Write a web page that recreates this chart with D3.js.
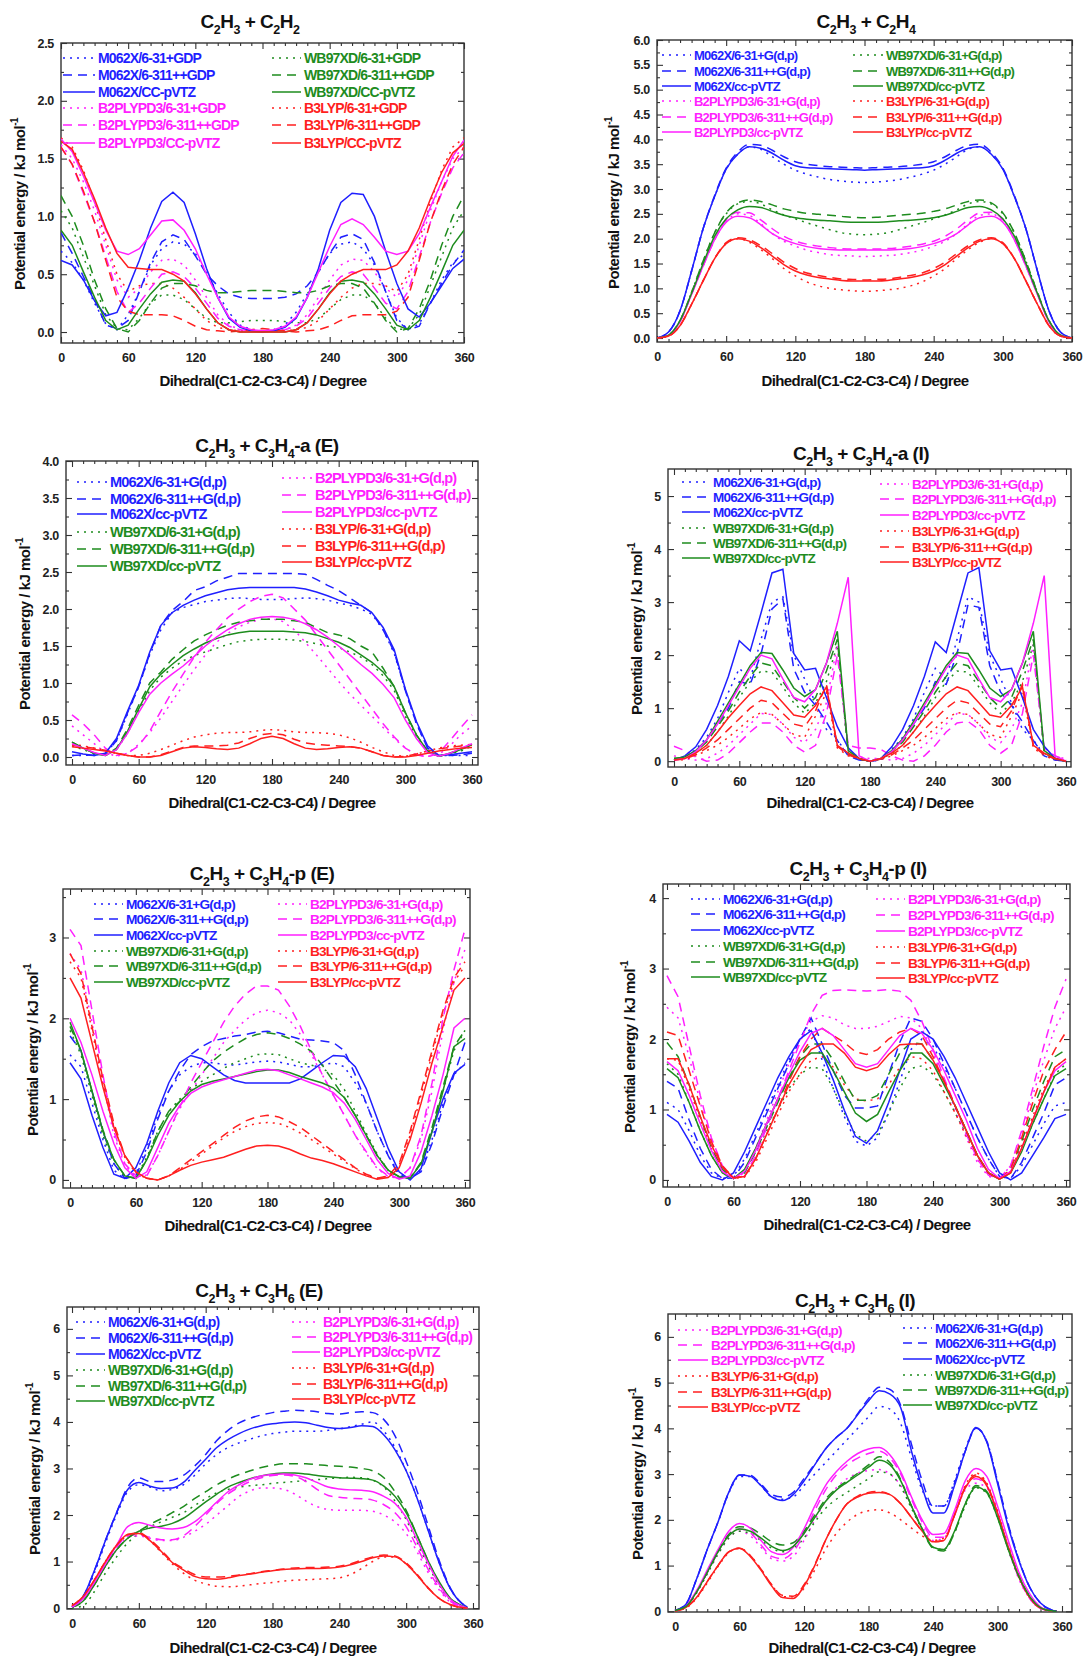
<!doctype html>
<html>
<head>
<meta charset="utf-8">
<title>Dihedral scans</title>
<style>
  body { margin: 0; background: #fff; }
  svg text { font-family: "Liberation Sans", Arial, sans-serif; font-weight: bold; }
</style>
</head>
<body>
<svg id="chart" width="1083" height="1656"></svg>
<script src="https://d3js.org/d3.v7.min.js"></script>
<script>
// dihedral angles (degree)
var ANG = [0,10,20,30,40,50,60,70,80,90,100,110,120,130,140,150,160,170,180,190,200,210,220,230,240,250,260,270,280,290,300,310,320,330,340,350,360];
var ANG_E = [0,10,20,30,40,50,60,70,80,90,100,110,120,130,140,150,160,170,180,190,200,210,220,230,240,250,260,270,280,290,300,310,320,330,340,350,355];
var X_MAJOR = [0,60,120,180,240,300,360];
var X_MINOR = [0,10,20,30,40,50,60,70,80,90,100,110,120,130,140,150,160,170,180,190,200,210,220,230,240,250,260,270,280,290,300,310,320,330,340,350,360];

// suffix a = 6-31+G(d,p), b = 6-311++G(d,p), c = cc-pVTZ ; energies in kJ/mol

// C2H3 + C2H2
var p1_m062x_a = [0.70,0.60,0.45,0.25,0.07,0.02,0.15,0.35,0.58,0.72,0.78,0.76,0.68,0.52,0.33,0.17,0.06,0.02,0.01,0.02,0.06,0.17,0.33,0.52,0.68,0.76,0.78,0.72,0.58,0.35,0.12,0.02,0.07,0.25,0.45,0.60,0.67];
var p1_m062x_b = [0.86,0.68,0.48,0.28,0.06,0.03,0.10,0.35,0.60,0.78,0.84,0.80,0.66,0.50,0.40,0.33,0.30,0.29,0.29,0.29,0.30,0.33,0.40,0.52,0.68,0.82,0.85,0.80,0.60,0.35,0.10,0.02,0.05,0.25,0.42,0.58,0.71];
var p1_m062x_c = [0.62,0.58,0.45,0.27,0.14,0.17,0.38,0.62,0.90,1.13,1.21,1.12,0.85,0.55,0.30,0.12,0.04,0.01,0.00,0.01,0.04,0.12,0.30,0.55,0.88,1.12,1.20,1.19,1.00,0.70,0.42,0.20,0.13,0.25,0.40,0.55,0.63];
var p1_b2_a = [1.62,1.50,1.30,1.05,0.75,0.45,0.30,0.38,0.52,0.62,0.63,0.58,0.45,0.30,0.15,0.06,0.02,0.01,0.00,0.01,0.02,0.06,0.15,0.30,0.45,0.58,0.63,0.62,0.52,0.38,0.30,0.45,0.75,1.05,1.30,1.50,1.60];
var p1_b2_b = [1.60,1.45,1.20,0.95,0.65,0.35,0.17,0.25,0.38,0.50,0.52,0.48,0.38,0.25,0.12,0.05,0.02,0.01,0.01,0.01,0.02,0.05,0.12,0.25,0.38,0.48,0.52,0.50,0.38,0.25,0.20,0.35,0.65,0.95,1.20,1.42,1.55];
var p1_b2_c = [1.67,1.56,1.35,1.12,0.88,0.70,0.67,0.72,0.84,0.96,0.97,0.88,0.72,0.50,0.30,0.13,0.05,0.02,0.01,0.02,0.05,0.13,0.30,0.52,0.74,0.93,0.98,0.93,0.82,0.70,0.67,0.70,0.85,1.08,1.30,1.52,1.66];
var p1_wb_a = [1.05,0.90,0.65,0.40,0.15,0.03,0.02,0.12,0.25,0.32,0.32,0.28,0.20,0.12,0.08,0.08,0.09,0.10,0.10,0.10,0.09,0.08,0.08,0.12,0.20,0.28,0.32,0.32,0.25,0.12,0.02,0.03,0.15,0.40,0.65,0.90,1.05];
var p1_wb_b = [1.18,1.00,0.75,0.45,0.20,0.03,0.00,0.10,0.25,0.38,0.42,0.42,0.40,0.36,0.34,0.34,0.35,0.36,0.36,0.36,0.35,0.34,0.34,0.36,0.40,0.42,0.42,0.38,0.25,0.10,0.00,0.03,0.20,0.45,0.75,1.00,1.18];
var p1_wb_c = [0.88,0.75,0.52,0.30,0.10,0.02,0.06,0.20,0.33,0.43,0.45,0.44,0.34,0.20,0.08,0.02,0.00,0.00,0.00,0.00,0.00,0.02,0.08,0.20,0.34,0.44,0.45,0.43,0.33,0.20,0.06,0.02,0.10,0.30,0.52,0.75,0.88];
var p1_b3_a = [1.68,1.60,1.40,1.12,0.80,0.50,0.35,0.40,0.42,0.42,0.38,0.30,0.20,0.10,0.04,0.02,0.01,0.01,0.01,0.01,0.01,0.02,0.04,0.10,0.20,0.30,0.38,0.42,0.42,0.40,0.35,0.50,0.80,1.12,1.40,1.60,1.68];
var p1_b3_b = [1.60,1.45,1.22,0.95,0.62,0.30,0.18,0.15,0.15,0.15,0.14,0.10,0.05,0.02,0.01,0.00,0.01,0.02,0.03,0.02,0.01,0.00,0.01,0.02,0.05,0.10,0.14,0.15,0.15,0.15,0.18,0.30,0.62,0.95,1.22,1.45,1.60];
var p1_b3_c = [1.65,1.58,1.38,1.15,0.90,0.68,0.56,0.55,0.54,0.54,0.50,0.44,0.33,0.20,0.08,0.02,0.00,0.00,0.00,0.00,0.00,0.02,0.08,0.20,0.33,0.44,0.50,0.54,0.54,0.54,0.58,0.70,0.90,1.15,1.38,1.55,1.63];

// C2H3 + C2H4
var p2_m062x_a = [0,0.12,0.55,1.35,2.2,2.85,3.4,3.7,3.85,3.8,3.65,3.5,3.38,3.3,3.24,3.19,3.16,3.14,3.13,3.14,3.16,3.19,3.24,3.3,3.38,3.5,3.65,3.8,3.85,3.7,3.4,2.85,2.2,1.35,0.55,0.12,0];
var p2_m062x_b = [0,0.12,0.55,1.35,2.2,2.87,3.42,3.74,3.9,3.88,3.78,3.65,3.55,3.5,3.47,3.45,3.44,3.43,3.42,3.43,3.44,3.45,3.47,3.5,3.55,3.65,3.78,3.88,3.9,3.74,3.42,2.87,2.2,1.35,0.55,0.12,0];
var p2_m062x_c = [0,0.12,0.55,1.35,2.2,2.85,3.4,3.7,3.85,3.82,3.72,3.58,3.47,3.43,3.42,3.41,3.4,3.39,3.38,3.39,3.4,3.41,3.42,3.43,3.47,3.58,3.72,3.82,3.85,3.7,3.4,2.85,2.2,1.35,0.55,0.12,0];
var p2_b2_a = [0,0.05,0.33,0.88,1.45,1.98,2.35,2.5,2.47,2.3,2.1,1.95,1.85,1.77,1.72,1.68,1.66,1.65,1.64,1.65,1.66,1.68,1.72,1.77,1.85,1.95,2.1,2.3,2.47,2.5,2.35,1.98,1.45,0.88,0.33,0.05,0];
var p2_b2_b = [0,0.05,0.33,0.88,1.45,1.98,2.38,2.53,2.52,2.38,2.2,2.05,1.95,1.89,1.85,1.82,1.8,1.79,1.79,1.79,1.8,1.82,1.85,1.89,1.95,2.05,2.2,2.38,2.52,2.53,2.38,1.98,1.45,0.88,0.33,0.05,0];
var p2_b2_c = [0,0.05,0.33,0.88,1.45,1.98,2.33,2.45,2.42,2.28,2.1,1.98,1.9,1.84,1.8,1.78,1.77,1.77,1.77,1.77,1.77,1.78,1.8,1.84,1.9,1.98,2.1,2.28,2.42,2.45,2.33,1.98,1.45,0.88,0.33,0.05,0];
var p2_wb_a = [0,0.06,0.35,0.92,1.55,2.12,2.5,2.7,2.75,2.7,2.58,2.48,2.4,2.32,2.25,2.18,2.12,2.09,2.08,2.09,2.12,2.18,2.25,2.32,2.4,2.48,2.58,2.7,2.75,2.7,2.5,2.12,1.55,0.92,0.35,0.06,0];
var p2_wb_b = [0,0.06,0.35,0.92,1.55,2.12,2.52,2.72,2.78,2.75,2.68,2.6,2.55,2.51,2.49,2.47,2.45,2.43,2.42,2.43,2.45,2.47,2.49,2.51,2.55,2.6,2.68,2.75,2.78,2.72,2.52,2.12,1.55,0.92,0.35,0.06,0];
var p2_wb_c = [0,0.06,0.35,0.9,1.5,2.05,2.4,2.58,2.65,2.63,2.55,2.47,2.42,2.39,2.37,2.36,2.34,2.33,2.33,2.33,2.34,2.36,2.37,2.39,2.42,2.47,2.55,2.63,2.65,2.58,2.4,2.05,1.5,0.9,0.35,0.06,0];
var p2_b3_a = [0,0.04,0.25,0.68,1.15,1.6,1.9,2.0,1.93,1.78,1.6,1.4,1.25,1.13,1.05,1.0,0.97,0.95,0.94,0.95,0.97,1.0,1.05,1.13,1.25,1.4,1.6,1.78,1.93,2.0,1.9,1.6,1.15,0.68,0.25,0.04,0];
var p2_b3_b = [0,0.04,0.25,0.68,1.15,1.6,1.92,2.02,1.98,1.86,1.7,1.53,1.4,1.31,1.26,1.22,1.19,1.18,1.17,1.18,1.19,1.22,1.26,1.31,1.4,1.53,1.7,1.86,1.98,2.02,1.92,1.6,1.15,0.68,0.25,0.04,0];
var p2_b3_c = [0,0.04,0.25,0.68,1.15,1.6,1.9,2.0,1.95,1.82,1.65,1.48,1.35,1.27,1.22,1.19,1.16,1.15,1.15,1.15,1.16,1.19,1.22,1.27,1.35,1.48,1.65,1.82,1.95,2.0,1.9,1.6,1.15,0.68,0.25,0.04,0];

// C2H3 + C3H4-a (E)
var p3_m062x_a = [0.02,0.02,0.03,0.05,0.22,0.58,0.95,1.38,1.72,1.95,2.02,2.06,2.1,2.12,2.14,2.15,2.14,2.13,2.13,2.13,2.14,2.15,2.14,2.12,2.08,2.05,2.0,1.93,1.72,1.4,0.9,0.45,0.12,0.02,0.02,0.02,0.02];
var p3_m062x_b = [0.02,0.03,0.02,0.04,0.22,0.6,0.95,1.4,1.78,1.98,2.1,2.25,2.3,2.38,2.43,2.48,2.48,2.48,2.48,2.48,2.48,2.47,2.4,2.32,2.25,2.15,2.05,1.95,1.72,1.42,0.9,0.45,0.12,0.02,0.02,0.03,0.05];
var p3_m062x_c = [0.07,0.04,0.02,0.05,0.25,0.62,0.97,1.42,1.78,1.95,2.05,2.12,2.18,2.22,2.26,2.28,2.29,2.29,2.29,2.29,2.29,2.27,2.23,2.18,2.12,2.08,2.05,1.95,1.75,1.45,0.92,0.48,0.15,0.02,0.03,0.05,0.07];
var p3_wb_a = [0.15,0.1,0.05,0.02,0.1,0.32,0.62,0.9,1.08,1.2,1.3,1.37,1.42,1.47,1.52,1.56,1.58,1.59,1.59,1.59,1.58,1.56,1.53,1.5,1.48,1.42,1.35,1.25,1.1,0.9,0.55,0.28,0.07,0.01,0.04,0.08,0.15];
var p3_wb_b = [0.2,0.12,0.05,0.02,0.12,0.38,0.7,1.0,1.15,1.32,1.45,1.57,1.65,1.72,1.78,1.82,1.84,1.86,1.86,1.86,1.84,1.82,1.75,1.68,1.65,1.6,1.5,1.42,1.2,0.95,0.6,0.3,0.08,0.01,0.05,0.1,0.17];
var p3_wb_c = [0.2,0.12,0.05,0.02,0.1,0.35,0.65,0.95,1.12,1.25,1.37,1.46,1.54,1.6,1.65,1.68,1.7,1.7,1.7,1.7,1.69,1.68,1.65,1.6,1.55,1.48,1.38,1.28,1.15,0.95,0.6,0.3,0.08,0.01,0.05,0.1,0.17];
var p3_b2_a = [0.42,0.3,0.18,0.06,0.01,0.05,0.17,0.33,0.53,0.75,0.97,1.18,1.38,1.55,1.67,1.76,1.82,1.86,1.87,1.83,1.72,1.55,1.38,1.2,1.02,0.85,0.7,0.55,0.4,0.25,0.12,0.03,0.01,0.03,0.15,0.3,0.42];
var p3_b2_b = [0.57,0.45,0.3,0.12,0.02,0.05,0.15,0.35,0.62,0.88,1.12,1.35,1.55,1.72,1.88,2.0,2.1,2.17,2.2,2.15,2.0,1.85,1.65,1.45,1.25,1.05,0.85,0.65,0.45,0.27,0.12,0.03,0.0,0.05,0.22,0.4,0.57];
var p3_b2_c = [0.18,0.12,0.06,0.02,0.1,0.32,0.6,0.85,1.0,1.12,1.23,1.36,1.5,1.62,1.72,1.8,1.86,1.89,1.9,1.89,1.86,1.8,1.72,1.62,1.5,1.38,1.25,1.13,0.98,0.8,0.5,0.25,0.06,0.01,0.05,0.12,0.18];
var p3_b3_a = [0.17,0.15,0.12,0.09,0.05,0.02,0.02,0.05,0.1,0.16,0.22,0.27,0.3,0.32,0.33,0.33,0.34,0.36,0.37,0.36,0.34,0.33,0.33,0.32,0.3,0.26,0.2,0.13,0.07,0.02,0.01,0.04,0.08,0.12,0.15,0.16,0.17];
var p3_b3_b = [0.16,0.14,0.12,0.09,0.05,0.02,0.0,0.0,0.03,0.08,0.13,0.15,0.15,0.15,0.16,0.19,0.25,0.3,0.32,0.3,0.24,0.19,0.17,0.16,0.15,0.14,0.12,0.07,0.02,0.0,0.01,0.04,0.08,0.11,0.13,0.15,0.16];
var p3_b3_c = [0.14,0.12,0.1,0.08,0.05,0.02,0.0,0.0,0.02,0.07,0.12,0.14,0.13,0.11,0.1,0.12,0.18,0.25,0.28,0.25,0.18,0.12,0.1,0.11,0.13,0.14,0.12,0.07,0.02,0.0,0.0,0.02,0.05,0.08,0.1,0.12,0.13];

// C2H3 + C3H4-a (I)
var p4_m062x_a = [0.02,0.07,0.22,0.45,0.8,1.3,1.75,1.55,2.3,3.0,3.1,2.0,1.55,1.1,0.6,0.4,0.12,0.03,0.0,0.03,0.22,0.45,0.8,1.3,1.75,1.55,2.3,3.1,3.0,2.0,1.55,1.1,0.6,0.4,0.12,0.03,0.0];
var p4_m062x_b = [0.02,0.07,0.2,0.4,0.7,1.0,1.5,1.45,2.03,2.87,3.06,1.74,1.3,1.05,0.74,0.39,0.1,0.02,0.0,0.02,0.2,0.4,0.7,1.0,1.5,1.45,2.03,2.95,2.9,1.8,1.3,1.05,0.74,0.39,0.1,0.02,0.0];
var p4_m062x_c = [0.02,0.1,0.27,0.6,1.05,1.6,2.27,2.08,2.8,3.55,3.62,2.03,1.72,1.75,1.2,0.65,0.25,0.05,0.0,0.05,0.27,0.6,1.05,1.6,2.25,2.05,2.8,3.55,3.65,2.08,1.72,1.75,1.2,0.6,0.28,0.05,0.0];
var p4_wb_a = [0.05,0.06,0.15,0.3,0.55,0.85,1.2,1.5,1.7,1.68,1.4,1.1,0.9,1.1,1.5,2.2,0.15,0.04,0.0,0.04,0.15,0.3,0.55,0.85,1.2,1.5,1.7,1.68,1.4,1.1,0.9,1.1,1.5,2.2,0.15,0.04,0.0];
var p4_wb_b = [0.05,0.07,0.18,0.36,0.65,0.95,1.3,1.6,1.85,1.8,1.5,1.2,1.0,1.2,1.7,2.3,0.15,0.04,0.0,0.04,0.18,0.36,0.65,0.95,1.3,1.6,1.85,1.8,1.5,1.2,1.0,1.2,1.7,2.3,0.15,0.04,0.0];
var p4_wb_c = [0.05,0.08,0.2,0.4,0.75,1.1,1.45,1.8,2.05,2.03,1.72,1.38,1.22,1.35,1.85,2.45,0.2,0.05,0.0,0.05,0.2,0.42,0.75,1.1,1.45,1.8,2.05,2.03,1.72,1.38,1.22,1.35,1.85,2.45,0.2,0.05,0.0];
var p4_b2_a = [0.1,0.05,0.02,0.05,0.15,0.3,0.5,0.7,0.9,0.88,0.7,0.45,0.35,0.6,1.1,2.2,0.2,0.08,0.05,0.05,0.02,0.05,0.15,0.3,0.5,0.7,0.9,0.88,0.7,0.45,0.35,0.6,1.1,2.2,0.2,0.08,0.05];
var p4_b2_b = [0.28,0.2,0.08,0.0,0.02,0.15,0.35,0.55,0.72,0.72,0.55,0.3,0.17,0.3,0.9,2.0,0.3,0.25,0.25,0.22,0.1,0.02,0.0,0.1,0.3,0.55,0.72,0.75,0.6,0.3,0.15,0.3,0.9,2.0,0.25,0.1,0.02];
var p4_b2_c = [0.02,0.05,0.18,0.4,0.7,1.05,1.4,1.75,2.0,1.93,1.55,1.2,1.12,1.35,1.85,2.6,3.47,0.1,0.0,0.05,0.18,0.4,0.7,1.05,1.4,1.75,2.0,1.93,1.55,1.2,1.12,1.35,1.85,2.6,3.5,0.1,0.0];
var p4_b3_a = [0.02,0.03,0.1,0.2,0.3,0.45,0.62,0.8,0.92,0.88,0.7,0.5,0.45,0.85,1.3,0.25,0.1,0.03,0.0,0.03,0.1,0.2,0.3,0.45,0.62,0.8,0.92,0.88,0.7,0.5,0.45,0.85,1.3,0.25,0.1,0.03,0.0];
var p4_b3_b = [0.02,0.04,0.12,0.25,0.4,0.6,0.8,1.0,1.15,1.1,0.9,0.7,0.65,0.95,1.45,0.28,0.12,0.04,0.0,0.04,0.12,0.25,0.4,0.6,0.8,1.0,1.15,1.1,0.9,0.7,0.65,0.95,1.45,0.28,0.12,0.04,0.0];
var p4_b3_c = [0.02,0.05,0.15,0.3,0.55,0.82,1.05,1.27,1.4,1.33,1.1,0.87,0.83,1.05,1.4,0.3,0.15,0.05,0.0,0.05,0.15,0.3,0.55,0.82,1.05,1.27,1.4,1.33,1.1,0.87,0.83,1.05,1.4,0.3,0.15,0.05,0.0];

// C2H3 + C3H4-p (E)
var p5_m062x_a = [1.55,1.4,0.95,0.5,0.12,0.01,0.08,0.4,0.8,1.1,1.3,1.4,1.45,1.45,1.43,1.42,1.44,1.46,1.47,1.46,1.43,1.4,1.4,1.42,1.45,1.4,1.2,0.95,0.6,0.3,0.08,0.01,0.12,0.5,0.95,1.3,1.45];
var p5_m062x_b = [1.78,1.6,1.1,0.6,0.2,0.02,0.05,0.35,0.75,1.1,1.35,1.55,1.65,1.72,1.75,1.78,1.8,1.83,1.84,1.82,1.78,1.74,1.73,1.72,1.7,1.6,1.3,0.95,0.6,0.3,0.05,0.02,0.1,0.45,0.9,1.3,1.7];
var p5_m062x_c = [1.45,1.25,0.8,0.4,0.07,0.02,0.15,0.45,0.85,1.2,1.45,1.54,1.5,1.4,1.3,1.23,1.2,1.2,1.2,1.2,1.2,1.25,1.35,1.45,1.54,1.53,1.4,1.13,0.76,0.39,0.1,0.0,0.14,0.6,1.0,1.32,1.43];
var p5_wb_a = [1.85,1.55,1.05,0.55,0.2,0.03,0.03,0.28,0.6,0.85,1.0,1.12,1.22,1.3,1.38,1.45,1.5,1.55,1.56,1.55,1.5,1.45,1.42,1.38,1.3,1.12,0.85,0.58,0.32,0.12,0.03,0.03,0.2,0.6,1.1,1.6,1.85];
var p5_wb_b = [1.9,1.6,1.1,0.62,0.25,0.05,0.02,0.25,0.6,0.85,0.97,1.15,1.32,1.47,1.58,1.67,1.75,1.8,1.82,1.8,1.75,1.68,1.59,1.42,1.22,1.02,0.8,0.55,0.3,0.12,0.04,0.02,0.22,0.65,1.15,1.65,1.85];
var p5_wb_c = [1.95,1.6,1.1,0.6,0.25,0.05,0.02,0.25,0.55,0.8,0.97,1.1,1.18,1.22,1.25,1.28,1.31,1.34,1.36,1.36,1.33,1.28,1.24,1.2,1.14,1.02,0.8,0.55,0.3,0.12,0.04,0.02,0.2,0.6,1.1,1.65,1.75];
var p5_b2_a = [2.8,2.6,1.95,1.2,0.55,0.18,0.04,0.06,0.3,0.6,0.88,1.1,1.3,1.5,1.7,1.85,1.98,2.07,2.1,2.07,1.98,1.8,1.55,1.3,1.05,0.8,0.55,0.33,0.14,0.04,0.02,0.15,0.5,1.1,1.85,2.45,2.85];
var p5_b2_b = [3.1,2.9,2.1,1.3,0.6,0.2,0.05,0.05,0.3,0.6,0.9,1.2,1.45,1.7,1.95,2.15,2.3,2.4,2.4,2.35,2.15,1.9,1.6,1.3,1.05,0.8,0.55,0.35,0.15,0.05,0.02,0.15,0.55,1.2,2.0,2.6,3.1];
var p5_b2_c = [2.0,1.7,1.3,0.85,0.45,0.15,0.02,0.1,0.4,0.7,0.92,1.07,1.15,1.2,1.24,1.28,1.32,1.36,1.37,1.35,1.3,1.25,1.2,1.15,1.08,0.95,0.75,0.5,0.25,0.08,0.01,0.05,0.35,0.8,1.3,1.88,2.0];
var p5_b3_a = [2.7,2.5,1.85,1.2,0.65,0.28,0.08,0.02,0.0,0.05,0.13,0.22,0.32,0.42,0.52,0.6,0.66,0.7,0.71,0.7,0.65,0.58,0.5,0.41,0.32,0.23,0.14,0.06,0.02,0.05,0.18,0.55,1.05,1.55,2.05,2.45,2.65];
var p5_b3_b = [2.8,2.55,1.9,1.25,0.7,0.3,0.1,0.02,0.0,0.05,0.15,0.25,0.35,0.45,0.55,0.65,0.73,0.78,0.8,0.78,0.72,0.65,0.55,0.45,0.35,0.25,0.15,0.07,0.02,0.05,0.2,0.6,1.1,1.6,2.1,2.5,2.7];
var p5_b3_c = [2.5,2.25,1.7,1.15,0.65,0.3,0.1,0.02,0.0,0.05,0.12,0.18,0.22,0.25,0.28,0.33,0.38,0.42,0.43,0.42,0.38,0.32,0.27,0.24,0.2,0.15,0.1,0.05,0.01,0.03,0.15,0.5,0.95,1.45,1.9,2.35,2.5];

// C2H3 + C3H4-p (I)
var p6_m062x_a = [1.1,1.0,0.7,0.35,0.1,0.02,0.05,0.3,0.65,1.0,1.35,1.7,2.0,2.15,1.7,1.3,0.9,0.55,0.48,0.6,0.95,1.4,1.85,2.0,1.9,1.6,1.3,0.95,0.6,0.3,0.05,0.02,0.2,0.5,0.8,1.05,1.1];
var p6_m062x_b = [1.4,1.3,0.85,0.45,0.15,0.02,0.03,0.25,0.6,0.95,1.3,1.65,2.0,2.3,1.93,1.55,1.2,1.02,1.02,1.05,1.5,1.95,2.3,2.25,2.0,1.65,1.3,0.95,0.6,0.3,0.05,0.02,0.25,0.6,0.95,1.35,1.45];
var p6_m062x_c = [0.93,0.82,0.55,0.25,0.05,0.0,0.1,0.4,0.75,1.1,1.45,1.75,2.0,2.12,1.8,1.42,0.99,0.62,0.52,0.7,1.1,1.55,2.0,2.1,2.0,1.75,1.45,1.1,0.75,0.4,0.1,0.0,0.1,0.35,0.6,0.87,0.93];
var p6_wb_a = [1.65,1.5,1.1,0.7,0.35,0.1,0.01,0.12,0.4,0.7,1.0,1.3,1.5,1.6,1.58,1.3,0.95,0.65,0.55,0.65,0.95,1.3,1.58,1.62,1.5,1.25,0.95,0.65,0.35,0.1,0.01,0.12,0.45,0.8,1.15,1.5,1.65];
var p6_wb_b = [1.95,1.75,1.35,0.9,0.45,0.15,0.02,0.1,0.4,0.75,1.1,1.45,1.75,1.93,1.93,1.7,1.4,1.13,1.13,1.2,1.5,1.8,1.95,1.93,1.7,1.4,1.05,0.7,0.35,0.1,0.01,0.15,0.55,1.0,1.4,1.75,1.85];
var p6_wb_c = [1.58,1.45,1.1,0.7,0.35,0.1,0.02,0.15,0.45,0.8,1.15,1.45,1.7,1.8,1.8,1.55,1.25,0.95,0.83,0.93,1.25,1.55,1.8,1.8,1.65,1.35,1.05,0.7,0.35,0.1,0.01,0.1,0.4,0.8,1.15,1.48,1.58];
var p6_b2_a = [2.45,2.3,1.75,1.1,0.55,0.15,0.02,0.1,0.45,0.85,1.25,1.65,2.0,2.25,2.33,2.3,2.2,2.15,2.15,2.18,2.25,2.32,2.3,2.15,1.8,1.4,1.0,0.6,0.25,0.05,0.02,0.2,0.65,1.2,1.7,2.15,2.45];
var p6_b2_b = [2.9,2.6,1.9,1.2,0.6,0.2,0.03,0.05,0.35,0.75,1.15,1.55,1.95,2.35,2.62,2.69,2.7,2.69,2.68,2.69,2.7,2.68,2.55,2.25,1.85,1.45,1.05,0.65,0.3,0.07,0.02,0.2,0.7,1.3,1.9,2.45,2.85];
var p6_b2_c = [1.68,1.55,1.2,0.8,0.42,0.12,0.02,0.12,0.42,0.8,1.15,1.5,1.82,2.08,2.15,2.05,1.85,1.65,1.6,1.65,1.85,2.05,2.15,2.08,1.85,1.55,1.2,0.85,0.45,0.15,0.02,0.12,0.45,0.85,1.25,1.55,1.68];
var p6_b3_a = [1.72,1.7,1.3,0.85,0.45,0.15,0.02,0.04,0.25,0.58,0.92,1.25,1.5,1.7,1.75,1.6,1.35,1.15,1.12,1.15,1.35,1.6,1.75,1.72,1.55,1.25,0.95,0.62,0.3,0.08,0.01,0.12,0.5,0.9,1.3,1.6,1.72];
var p6_b3_b = [2.1,2.05,1.55,1.05,0.55,0.2,0.03,0.05,0.3,0.65,1.0,1.4,1.75,2.0,2.15,2.05,1.95,1.82,1.78,1.85,2.0,2.1,2.15,2.05,1.75,1.4,1.05,0.7,0.35,0.1,0.01,0.15,0.6,1.1,1.55,1.85,2.1];
var p6_b3_c = [1.72,1.72,1.35,0.9,0.5,0.18,0.03,0.05,0.3,0.65,1.0,1.35,1.62,1.85,1.93,1.93,1.8,1.6,1.55,1.6,1.78,1.92,1.93,1.93,1.7,1.4,1.05,0.7,0.35,0.1,0.01,0.1,0.45,0.85,1.25,1.6,1.72];

// C2H3 + C3H6 (E)
var p7_m062x_a = [0.02,0.22,0.75,1.4,2.0,2.5,2.65,2.6,2.52,2.55,2.65,2.85,3.1,3.3,3.45,3.55,3.63,3.7,3.75,3.78,3.8,3.8,3.8,3.82,3.85,3.9,3.95,4.0,3.8,3.45,2.95,2.35,1.65,0.95,0.4,0.1,0.02];
var p7_m062x_b = [0.02,0.25,0.8,1.45,2.05,2.6,2.8,2.72,2.72,2.75,2.85,3.05,3.3,3.6,3.82,3.98,4.08,4.15,4.2,4.23,4.25,4.24,4.22,4.18,4.17,4.2,4.22,4.2,4.05,3.7,3.15,2.5,1.75,1.0,0.42,0.1,0.02];
var p7_m062x_c = [0.02,0.25,0.8,1.45,2.05,2.55,2.7,2.62,2.57,2.58,2.7,2.95,3.2,3.45,3.62,3.75,3.85,3.92,3.96,3.99,4.0,3.98,3.93,3.88,3.86,3.88,3.92,3.9,3.72,3.4,2.95,2.35,1.65,0.95,0.4,0.1,0.02];
var p7_wb_a = [0.0,0.05,0.35,0.75,1.1,1.4,1.6,1.75,1.85,1.95,2.05,2.2,2.35,2.48,2.55,2.6,2.63,2.65,2.68,2.7,2.72,2.74,2.76,2.78,2.8,2.81,2.8,2.75,2.6,2.3,1.9,1.4,0.9,0.48,0.17,0.04,0.0];
var p7_wb_b = [0.02,0.15,0.5,0.9,1.25,1.5,1.65,1.8,1.92,2.05,2.18,2.35,2.5,2.65,2.77,2.87,2.95,3.02,3.07,3.1,3.1,3.1,3.08,3.06,3.05,3.03,3.0,2.95,2.8,2.5,2.1,1.55,1.0,0.52,0.2,0.05,0.0];
var p7_wb_c = [0.02,0.15,0.5,0.9,1.25,1.5,1.65,1.72,1.76,1.82,1.93,2.1,2.28,2.45,2.6,2.7,2.78,2.84,2.88,2.9,2.9,2.88,2.85,2.82,2.8,2.79,2.78,2.75,2.62,2.4,2.05,1.55,1.0,0.55,0.2,0.05,0.0];
var p7_b2_a = [0.02,0.18,0.5,0.9,1.25,1.52,1.55,1.5,1.45,1.45,1.52,1.65,1.8,2.0,2.2,2.4,2.52,2.58,2.58,2.55,2.45,2.3,2.18,2.12,2.1,2.1,2.1,2.08,2.0,1.85,1.6,1.2,0.75,0.38,0.12,0.03,0.0];
var p7_b2_b = [0.02,0.2,0.55,0.95,1.3,1.55,1.58,1.52,1.47,1.47,1.55,1.75,2.0,2.25,2.45,2.6,2.72,2.8,2.85,2.86,2.83,2.72,2.55,2.42,2.38,2.36,2.35,2.32,2.22,2.05,1.75,1.3,0.82,0.42,0.14,0.03,0.0];
var p7_b2_c = [0.02,0.2,0.55,0.95,1.35,1.75,1.84,1.78,1.72,1.7,1.73,1.85,2.05,2.28,2.5,2.65,2.77,2.84,2.87,2.88,2.86,2.8,2.7,2.6,2.56,2.54,2.53,2.5,2.4,2.25,1.95,1.45,0.95,0.5,0.18,0.04,0.0];
var p7_b3_a = [0.05,0.25,0.6,1.0,1.35,1.55,1.6,1.45,1.2,0.95,0.75,0.6,0.52,0.47,0.46,0.47,0.5,0.53,0.55,0.58,0.6,0.61,0.62,0.63,0.65,0.72,0.85,1.0,1.1,1.1,0.95,0.7,0.42,0.2,0.07,0.01,0.0];
var p7_b3_b = [0.05,0.25,0.6,1.0,1.35,1.58,1.62,1.47,1.25,1.0,0.85,0.72,0.67,0.67,0.68,0.71,0.74,0.78,0.81,0.84,0.86,0.87,0.87,0.88,0.9,0.95,1.03,1.1,1.14,1.12,0.97,0.72,0.43,0.2,0.07,0.01,0.0];
var p7_b3_c = [0.05,0.25,0.6,1.0,1.35,1.58,1.6,1.45,1.22,0.98,0.82,0.68,0.63,0.62,0.65,0.7,0.73,0.77,0.8,0.83,0.84,0.85,0.85,0.86,0.88,0.93,1.0,1.08,1.12,1.1,0.95,0.7,0.42,0.2,0.07,0.01,0.0];

// C2H3 + C3H6 (I)
var p8_m062x_a = [0.02,0.15,0.7,1.35,1.95,2.58,2.95,2.95,2.75,2.5,2.45,2.5,2.75,3.0,3.25,3.5,3.75,4.0,4.25,4.48,4.42,4.1,3.35,2.65,2.3,2.3,2.85,3.55,4.0,3.72,2.85,1.9,1.12,0.53,0.18,0.03,0.0];
var p8_m062x_b = [0.02,0.15,0.7,1.35,1.95,2.6,2.98,2.97,2.78,2.55,2.5,2.6,2.9,3.22,3.55,3.8,4.0,4.32,4.65,4.9,4.85,4.5,3.65,2.85,2.3,2.3,2.8,3.5,4.0,3.72,2.85,1.9,1.12,0.53,0.18,0.03,0.0];
var p8_m062x_c = [0.02,0.15,0.7,1.35,1.95,2.6,2.98,2.95,2.75,2.5,2.42,2.55,2.85,3.2,3.55,3.8,4.0,4.3,4.6,4.82,4.75,4.45,3.5,2.7,2.15,2.15,2.75,3.5,4.02,3.7,2.8,1.85,1.1,0.52,0.18,0.03,0.0];
var p8_wb_a = [0.02,0.1,0.4,0.82,1.25,1.6,1.75,1.7,1.55,1.38,1.3,1.38,1.6,1.95,2.25,2.45,2.6,2.75,2.9,3.05,3.0,2.72,2.25,1.78,1.4,1.35,1.72,2.3,2.7,2.58,2.05,1.35,0.75,0.32,0.08,0.01,0.0];
var p8_wb_b = [0.02,0.1,0.42,0.85,1.3,1.68,1.85,1.82,1.68,1.52,1.45,1.5,1.75,2.1,2.45,2.68,2.85,3.02,3.2,3.38,3.25,2.88,2.3,1.8,1.38,1.32,1.72,2.35,2.75,2.62,2.08,1.38,0.78,0.33,0.09,0.01,0.0];
var p8_wb_c = [0.02,0.1,0.42,0.85,1.3,1.65,1.8,1.75,1.6,1.42,1.33,1.42,1.7,2.05,2.4,2.65,2.82,2.98,3.15,3.3,3.2,2.85,2.3,1.8,1.4,1.35,1.75,2.35,2.72,2.6,2.05,1.35,0.75,0.32,0.08,0.01,0.0];
var p8_b2_a = [0.02,0.1,0.4,0.82,1.25,1.6,1.75,1.65,1.4,1.15,1.1,1.2,1.55,2.0,2.4,2.7,2.9,3.02,3.08,3.1,3.0,2.75,2.3,1.85,1.55,1.6,2.1,2.65,2.8,2.7,2.1,1.35,0.7,0.28,0.06,0.01,0.0];
var p8_b2_b = [0.02,0.12,0.42,0.85,1.3,1.68,1.8,1.72,1.45,1.2,1.15,1.3,1.7,2.2,2.65,2.98,3.2,3.35,3.45,3.5,3.35,3.0,2.45,1.95,1.62,1.62,2.1,2.7,2.9,2.75,2.15,1.4,0.72,0.28,0.06,0.01,0.0];
var p8_b2_c = [0.02,0.12,0.45,0.9,1.35,1.75,1.92,1.82,1.55,1.3,1.24,1.4,1.8,2.3,2.75,3.05,3.28,3.45,3.55,3.58,3.42,3.05,2.5,2.0,1.68,1.7,2.2,2.85,3.12,2.95,2.3,1.55,0.85,0.38,0.1,0.01,0.0];
var p8_b3_a = [0.01,0.07,0.28,0.62,0.98,1.28,1.38,1.22,0.92,0.58,0.32,0.32,0.5,0.9,1.35,1.7,1.95,2.12,2.2,2.22,2.15,2.0,1.82,1.65,1.55,1.6,2.15,2.75,3.02,2.8,2.2,1.45,0.78,0.3,0.07,0.01,0.0];
var p8_b3_b = [0.01,0.08,0.3,0.65,1.0,1.3,1.38,1.22,0.92,0.58,0.35,0.33,0.58,1.02,1.55,2.0,2.35,2.52,2.6,2.62,2.55,2.35,2.05,1.75,1.52,1.55,2.1,2.72,2.98,2.78,2.15,1.4,0.75,0.3,0.07,0.01,0.0];
var p8_b3_c = [0.01,0.08,0.3,0.65,1.0,1.3,1.38,1.2,0.9,0.55,0.3,0.28,0.55,1.0,1.55,2.0,2.35,2.5,2.58,2.6,2.55,2.35,2.05,1.75,1.52,1.55,2.1,2.7,2.95,2.75,2.15,1.4,0.75,0.3,0.07,0.01,0.0];

var COLOR = {M062X: "#1f1fff", WB97XD: "#1e8c1e", B2PLYPD3: "#ff1fff", B3LYP: "#ff1f1f"};
var DASH = {a: "2,5", b: "9,6", c: null};
var BASIS_GDP = {a: "6-31+GDP", b: "6-311++GDP", c: "CC-pVTZ"};
var BASIS_DP = {a: "6-31+G(d,p)", b: "6-311++G(d,p)", c: "cc-pVTZ"};

function S(m, b, v) { return {m: m, b: b, v: v}; }

var panels = [
  {id: 1, l: 61, r: 464, t: 43, b: 343, xd: [0, 360], yd: [-0.095, 2.5], ang: ANG, curve: d3.curveLinear,
   yTicks: [0, 0.5, 1.0, 1.5, 2.0, 2.5], yMinor: [0.25, 0.75, 1.25, 1.75, 2.25], yFmt: d3.format(".1f"),
   title: [["C"], ["2", 1], ["H"], ["3", 1], [" + C"], ["2", 1], ["H"], ["2", 1]], tx: 250, ty: 28,
   xl: [263, 386], yl: [25, 204], basis: BASIS_GDP, fs: 14,
   legL: {sx: 63, tx: 98, ys: [58, 75, 92, 108, 125, 143]}, legR: {sx: 272, tx: 304, ys: [58, 75, 92, 108, 125, 143]},
   left: [S("M062X", "a", p1_m062x_a), S("M062X", "b", p1_m062x_b), S("M062X", "c", p1_m062x_c),
          S("B2PLYPD3", "a", p1_b2_a), S("B2PLYPD3", "b", p1_b2_b), S("B2PLYPD3", "c", p1_b2_c)],
   right: [S("WB97XD", "a", p1_wb_a), S("WB97XD", "b", p1_wb_b), S("WB97XD", "c", p1_wb_c),
           S("B3LYP", "a", p1_b3_a), S("B3LYP", "b", p1_b3_b), S("B3LYP", "c", p1_b3_c)]},
  {id: 2, l: 657, r: 1072, t: 40, b: 342, xd: [0, 360], yd: [-0.08, 6.0], ang: ANG, curve: d3.curveMonotoneX,
   yTicks: [0, 0.5, 1.0, 1.5, 2.0, 2.5, 3.0, 3.5, 4.0, 4.5, 5.0, 5.5, 6.0], yMinor: [0.25, 0.75, 1.25, 1.75, 2.25, 2.75, 3.25, 3.75, 4.25, 4.75, 5.25, 5.75], yFmt: d3.format(".1f"),
   title: [["C"], ["2", 1], ["H"], ["3", 1], [" + C"], ["2", 1], ["H"], ["4", 1]], tx: 866, ty: 28,
   xl: [865, 386], yl: [619, 203], basis: BASIS_DP, fs: 13,
   legL: {sx: 662, tx: 694, ys: [55, 71, 86, 101, 117, 132]}, legR: {sx: 853, tx: 886, ys: [55, 71, 86, 101, 117, 132]},
   left: [S("M062X", "a", p2_m062x_a), S("M062X", "b", p2_m062x_b), S("M062X", "c", p2_m062x_c),
          S("B2PLYPD3", "a", p2_b2_a), S("B2PLYPD3", "b", p2_b2_b), S("B2PLYPD3", "c", p2_b2_c)],
   right: [S("WB97XD", "a", p2_wb_a), S("WB97XD", "b", p2_wb_b), S("WB97XD", "c", p2_wb_c),
           S("B3LYP", "a", p2_b3_a), S("B3LYP", "b", p2_b3_b), S("B3LYP", "c", p2_b3_c)]},
  {id: 3, l: 66, r: 478, t: 461, b: 765, xd: [-5.4, 365.4], yd: [-0.108, 4.0], ang: ANG, curve: d3.curveLinear,
   yTicks: [0, 0.5, 1.0, 1.5, 2.0, 2.5, 3.0, 3.5, 4.0], yMinor: [0.25, 0.75, 1.25, 1.75, 2.25, 2.75, 3.25, 3.75], yFmt: d3.format(".1f"),
   title: [["C"], ["2", 1], ["H"], ["3", 1], [" + C"], ["3", 1], ["H"], ["4", 1], ["-a (E)"]], tx: 267, ty: 452,
   xl: [272, 808], yl: [30, 624], basis: BASIS_DP, fs: 14.6,
   legL: {sx: 77, tx: 110, ys: [482, 499, 514, 532, 549, 566]}, legR: {sx: 282, tx: 315, ys: [478, 495, 512, 529, 546, 562]},
   left: [S("M062X", "a", p3_m062x_a), S("M062X", "b", p3_m062x_b), S("M062X", "c", p3_m062x_c),
          S("WB97XD", "a", p3_wb_a), S("WB97XD", "b", p3_wb_b), S("WB97XD", "c", p3_wb_c)],
   right: [S("B2PLYPD3", "a", p3_b2_a), S("B2PLYPD3", "b", p3_b2_b), S("B2PLYPD3", "c", p3_b2_c),
           S("B3LYP", "a", p3_b3_a), S("B3LYP", "b", p3_b3_b), S("B3LYP", "c", p3_b3_c)]},
  {id: 4, l: 668, r: 1071, t: 469, b: 767, xd: [-5.5, 364.6], yd: [-0.11, 5.51], ang: ANG, curve: d3.curveLinear,
   yTicks: [0, 1, 2, 3, 4, 5], yMinor: [0.5, 1.5, 2.5, 3.5, 4.5], yFmt: d3.format("d"),
   title: [["C"], ["2", 1], ["H"], ["3", 1], [" + C"], ["3", 1], ["H"], ["4", 1], ["-a (I)"]], tx: 861, ty: 460,
   xl: [870, 808], yl: [642, 629], basis: BASIS_DP, fs: 13.5,
   legL: {sx: 682, tx: 713, ys: [482, 497, 512, 528, 543, 558]}, legR: {sx: 880, tx: 912, ys: [484, 499, 515, 531, 547, 562]},
   left: [S("M062X", "a", p4_m062x_a), S("M062X", "b", p4_m062x_b), S("M062X", "c", p4_m062x_c),
          S("WB97XD", "a", p4_wb_a), S("WB97XD", "b", p4_wb_b), S("WB97XD", "c", p4_wb_c)],
   right: [S("B2PLYPD3", "a", p4_b2_a), S("B2PLYPD3", "b", p4_b2_b), S("B2PLYPD3", "c", p4_b2_c),
           S("B3LYP", "a", p4_b3_a), S("B3LYP", "b", p4_b3_b), S("B3LYP", "c", p4_b3_c)]},
  {id: 5, l: 63, r: 470, t: 889, b: 1188, xd: [-6.4, 364.6], yd: [-0.1, 3.6], ang: ANG, curve: d3.curveLinear,
   yTicks: [0, 1, 2, 3], yMinor: [0.5, 1.5, 2.5, 3.5], yFmt: d3.format("d"),
   title: [["C"], ["2", 1], ["H"], ["3", 1], [" + C"], ["3", 1], ["H"], ["4", 1], ["-p (E)"]], tx: 262, ty: 880,
   xl: [268, 1231], yl: [38, 1050], basis: BASIS_DP, fs: 13.7,
   legL: {sx: 94, tx: 126, ys: [904, 919, 935, 951, 966, 982]}, legR: {sx: 278, tx: 310, ys: [904, 919, 935, 951, 966, 982]},
   left: [S("M062X", "a", p5_m062x_a), S("M062X", "b", p5_m062x_b), S("M062X", "c", p5_m062x_c),
          S("WB97XD", "a", p5_wb_a), S("WB97XD", "b", p5_wb_b), S("WB97XD", "c", p5_wb_c)],
   right: [S("B2PLYPD3", "a", p5_b2_a), S("B2PLYPD3", "b", p5_b2_b), S("B2PLYPD3", "c", p5_b2_c),
           S("B3LYP", "a", p5_b3_a), S("B3LYP", "b", p5_b3_b), S("B3LYP", "c", p5_b3_c)]},
  {id: 6, l: 663, r: 1070, t: 884, b: 1187, xd: [-3.6, 363.6], yd: [-0.1, 4.2], ang: ANG, curve: d3.curveLinear,
   yTicks: [0, 1, 2, 3, 4], yMinor: [0.5, 1.5, 2.5, 3.5], yFmt: d3.format("d"),
   title: [["C"], ["2", 1], ["H"], ["3", 1], [" + C"], ["3", 1], ["H"], ["4", 1], ["-p (I)"]], tx: 858, ty: 875,
   xl: [867, 1230], yl: [635, 1047], basis: BASIS_DP, fs: 13.7,
   legL: {sx: 691, tx: 723, ys: [899, 914, 930, 946, 962, 977]}, legR: {sx: 876, tx: 908, ys: [899, 915, 931, 947, 963, 978]},
   left: [S("M062X", "a", p6_m062x_a), S("M062X", "b", p6_m062x_b), S("M062X", "c", p6_m062x_c),
          S("WB97XD", "a", p6_wb_a), S("WB97XD", "b", p6_wb_b), S("WB97XD", "c", p6_wb_c)],
   right: [S("B2PLYPD3", "a", p6_b2_a), S("B2PLYPD3", "b", p6_b2_b), S("B2PLYPD3", "c", p6_b2_c),
           S("B3LYP", "a", p6_b3_a), S("B3LYP", "b", p6_b3_b), S("B3LYP", "c", p6_b3_c)]},
  {id: 7, l: 67, r: 479, t: 1307, b: 1609, xd: [-4.5, 365.4], yd: [-0.02, 6.47], ang: ANG_E, curve: d3.curveMonotoneX,
   yTicks: [0, 1, 2, 3, 4, 5, 6], yMinor: [0.5, 1.5, 2.5, 3.5, 4.5, 5.5], yFmt: d3.format("d"),
   title: [["C"], ["2", 1], ["H"], ["3", 1], [" + C"], ["3", 1], ["H"], ["6", 1], [" (E)"]], tx: 259, ty: 1297,
   xl: [273, 1653], yl: [40, 1469], basis: BASIS_DP, fs: 14,
   legL: {sx: 76, tx: 108, ys: [1322, 1338, 1354, 1370, 1386, 1401]}, legR: {sx: 292, tx: 323, ys: [1322, 1337, 1352, 1368, 1384, 1399]},
   left: [S("M062X", "a", p7_m062x_a), S("M062X", "b", p7_m062x_b), S("M062X", "c", p7_m062x_c),
          S("WB97XD", "a", p7_wb_a), S("WB97XD", "b", p7_wb_b), S("WB97XD", "c", p7_wb_c)],
   right: [S("B2PLYPD3", "a", p7_b2_a), S("B2PLYPD3", "b", p7_b2_b), S("B2PLYPD3", "c", p7_b2_c),
           S("B3LYP", "a", p7_b3_a), S("B3LYP", "b", p7_b3_b), S("B3LYP", "c", p7_b3_c)]},
  {id: 8, l: 668, r: 1072, t: 1314, b: 1612, xd: [-6.5, 369.3], yd: [-0.015, 6.5], ang: ANG_E, curve: d3.curveMonotoneX,
   yTicks: [0, 1, 2, 3, 4, 5, 6], yMinor: [0.5, 1.5, 2.5, 3.5, 4.5, 5.5], yFmt: d3.format("d"),
   title: [["C"], ["2", 1], ["H"], ["3", 1], [" + C"], ["3", 1], ["H"], ["6", 1], [" (I)"]], tx: 855, ty: 1307,
   xl: [872, 1653], yl: [643, 1474], basis: BASIS_DP, fs: 13.5,
   legL: {sx: 678, tx: 711, ys: [1330, 1345, 1360, 1376, 1392, 1407]}, legR: {sx: 903, tx: 935, ys: [1328, 1343, 1359, 1375, 1390, 1405]},
   left: [S("B2PLYPD3", "a", p8_b2_a), S("B2PLYPD3", "b", p8_b2_b), S("B2PLYPD3", "c", p8_b2_c),
          S("B3LYP", "a", p8_b3_a), S("B3LYP", "b", p8_b3_b), S("B3LYP", "c", p8_b3_c)],
   right: [S("M062X", "a", p8_m062x_a), S("M062X", "b", p8_m062x_b), S("M062X", "c", p8_m062x_c),
           S("WB97XD", "a", p8_wb_a), S("WB97XD", "b", p8_wb_b), S("WB97XD", "c", p8_wb_c)]}
];

var svg = d3.select("#chart");
var defs = svg.append("defs");

function styleAxis(sel, fs) {
  sel.attr("color", "#333").select(".domain").remove();
  sel.selectAll("line").attr("stroke-width", 1.1);
  sel.selectAll("text").attr("font-size", null).style("font-size", fs + "px").style("letter-spacing", "-0.3px").attr("fill", "#222");
}

function drawPanel(p) {
  var x = d3.scaleLinear().domain(p.xd).range([p.l, p.r]);
  var y = d3.scaleLinear().domain(p.yd).range([p.b, p.t]);
  var g = svg.append("g").attr("class", "panel" + p.id);

  defs.append("clipPath").attr("id", "clip" + p.id).append("rect")
    .attr("x", p.l).attr("y", p.t).attr("width", p.r - p.l).attr("height", p.b - p.t);

  var xMin = X_MINOR.filter(function (v) { return v >= p.xd[0] && v <= p.xd[1] && X_MAJOR.indexOf(v) < 0; });

  // bottom / left with labels
  g.append("g").attr("transform", "translate(0," + p.b + ")")
    .call(d3.axisBottom(x).tickValues(X_MAJOR).tickSize(-6).tickPadding(10.5).tickFormat(d3.format("d")))
    .call(styleAxis, 12.5);
  g.append("g").attr("transform", "translate(" + p.l + ",0)")
    .call(d3.axisLeft(y).tickValues(p.yTicks).tickSize(-6).tickPadding(7).tickFormat(p.yFmt))
    .call(styleAxis, 12.5);
  // mirrored ticks
  g.append("g").attr("transform", "translate(0," + p.t + ")")
    .call(d3.axisTop(x).tickValues(X_MAJOR).tickSize(-6).tickFormat("")).call(styleAxis, 12);
  g.append("g").attr("transform", "translate(" + p.r + ",0)")
    .call(d3.axisRight(y).tickValues(p.yTicks).tickSize(-6).tickFormat("")).call(styleAxis, 12);
  // minor ticks
  [[d3.axisBottom, p.b], [d3.axisTop, p.t]].forEach(function (a) {
    g.append("g").attr("transform", "translate(0," + a[1] + ")")
      .call(a[0](x).tickValues(xMin).tickSize(-3).tickFormat("")).call(styleAxis, 12);
  });
  [[d3.axisLeft, p.l], [d3.axisRight, p.r]].forEach(function (a) {
    g.append("g").attr("transform", "translate(" + a[1] + ",0)")
      .call(a[0](y).tickValues(p.yMinor).tickSize(-3).tickFormat("")).call(styleAxis, 12);
  });

  // frame
  g.append("rect").attr("x", p.l).attr("y", p.t).attr("width", p.r - p.l).attr("height", p.b - p.t)
    .attr("fill", "none").attr("stroke", "#333").attr("stroke-width", 1.4);

  // curves
  var line = d3.line().x(function (d) { return x(d[0]); }).y(function (d) { return y(d[1]); }).curve(p.curve);
  var all = p.left.concat(p.right);
  var order = ["a", "b", "c"];
  order.forEach(function (bs) {
    all.filter(function (s) { return s.b === bs; }).forEach(function (s) {
      g.append("path").datum(d3.zip(p.ang, s.v))
        .attr("clip-path", "url(#clip" + p.id + ")")
        .attr("d", line)
        .attr("fill", "none")
        .attr("stroke", COLOR[s.m])
        .attr("stroke-width", 1.5)
        .attr("stroke-dasharray", DASH[s.b]);
    });
  });

  // legend
  function legend(cfg, list) {
    list.forEach(function (s, i) {
      var yy = cfg.ys[i];
      g.append("line").attr("x1", cfg.sx).attr("x2", cfg.tx - 3).attr("y1", yy).attr("y2", yy)
        .attr("stroke", COLOR[s.m]).attr("stroke-width", 1.5).attr("stroke-dasharray", DASH[s.b]);
      g.append("text").attr("x", cfg.tx).attr("y", yy + p.fs * 0.36)
        .attr("fill", COLOR[s.m]).style("font-size", p.fs + "px").style("letter-spacing", (-0.06 * p.fs) + "px")
        .text(s.m + "/" + p.basis[s.b]);
    });
  }
  legend(p.legL, p.left);
  legend(p.legR, p.right);

  // title
  var t = g.append("text").attr("x", p.tx).attr("y", p.ty).attr("text-anchor", "middle")
    .attr("fill", "#111").style("font-size", "19px").style("letter-spacing", "-0.5px");
  var low = false;
  p.title.forEach(function (part) {
    var sp = t.append("tspan").text(part[0]);
    if (part[1]) {
      sp.style("font-size", "12.5px").attr("dy", low ? 0 : 6);
      low = true;
    } else {
      if (low) sp.attr("dy", -6);
      low = false;
    }
  });

  // axis titles
  g.append("text").attr("x", p.xl[0]).attr("y", p.xl[1]).attr("text-anchor", "middle")
    .attr("fill", "#111").style("font-size", "15px").style("letter-spacing", "-0.6px")
    .text("Dihedral(C1-C2-C3-C4) / Degree");
  var yt = g.append("text").attr("transform", "translate(" + p.yl[0] + "," + p.yl[1] + ") rotate(-90)")
    .attr("text-anchor", "middle").attr("fill", "#111").style("font-size", "15px").style("letter-spacing", "-0.5px");
  yt.append("tspan").text("Potential energy / kJ mol");
  yt.append("tspan").text("-1").style("font-size", "10px").attr("dy", -7);
}

panels.forEach(drawPanel);
</script>
</body>
</html>
